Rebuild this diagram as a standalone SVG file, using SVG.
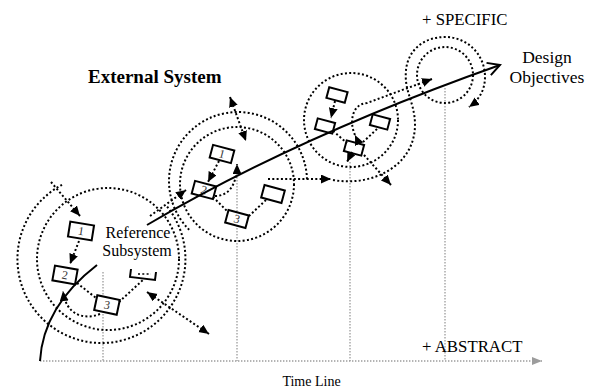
<svg xmlns="http://www.w3.org/2000/svg" width="597" height="390" viewBox="0 0 597 390">
  <defs>
    <!-- filled arrowhead, used at path ends -->
    <marker id="ah" markerUnits="userSpaceOnUse" markerWidth="12" markerHeight="10" refX="10" refY="4.5" orient="auto">
      <path d="M0,0 L10,4.5 L0,9 z" fill="#000"/>
    </marker>
    <!-- same head, flipped at path starts for double-ended arrows -->
    <marker id="ah2" markerUnits="userSpaceOnUse" markerWidth="12" markerHeight="10" refX="10" refY="4.5" orient="auto-start-reverse">
      <path d="M0,0 L10,4.5 L0,9 z" fill="#000"/>
    </marker>
    <!-- open chevron for the main trajectory -->
    <marker id="open" markerUnits="userSpaceOnUse" markerWidth="16" markerHeight="16" refX="13" refY="8" orient="auto">
      <path d="M1,1.5 L13,8 L1,14.5" fill="none" stroke="#000" stroke-width="2"/>
    </marker>
    <!-- grey head for the time axis -->
    <marker id="gah" markerUnits="userSpaceOnUse" markerWidth="12" markerHeight="10" refX="10" refY="4" orient="auto">
      <path d="M0,0 L10,4 L0,8 z" fill="#9c9c9c"/>
    </marker>
  </defs>
  <style>
    .dot{fill:none;stroke:#000;stroke-width:2;stroke-dasharray:2 2.3}
    .gdot{fill:none;stroke:#9c9c9c;stroke-width:1.3;stroke-dasharray:1.4 1.6}
    .main{fill:none;stroke:#000;stroke-width:2}
    .box rect{fill:#fff;stroke:#000;stroke-width:2}
    .box text{font-family:"Liberation Serif","Times New Roman",serif;font-size:12px;fill:#333;text-anchor:middle}
    .lbl{font-family:"Liberation Serif","Times New Roman",serif;fill:#000}
  </style>

  <!-- time axis and projections -->
  <g id="timeline">
    <path class="gdot" d="M40,361 L542,361" marker-end="url(#gah)"/>
    <path class="gdot" d="M103,272 L103,361"/>
    <path class="gdot" d="M237,168 L237,361"/>
    <path class="gdot" d="M350,162 L350,361"/>
    <path class="gdot" d="M445,88 L445,361"/>
  </g>

  <!-- rings around each subsystem state -->
  <g id="rings">
    <path class="dot" d="M62,184.8 A84,84 0 1 0 165.8,205"/>
    <circle class="dot" cx="108" cy="259" r="71"/>
    <path class="dot" d="M189.2,229.8 A69,69 0 1 1 307,181"/>
    <circle class="dot" cx="237" cy="184" r="57"/>
    <circle class="dot" cx="351" cy="120" r="47"/>
    <circle class="dot" cx="445" cy="75" r="28"/>
  </g>

  <!-- reference subsystem -->
  <g id="ref-box1" class="box" transform="translate(81,231) rotate(9)"><rect x="-12" y="-7.5" width="24" height="15"/><text y="4">1</text></g>
  <g id="ref-box2" class="box" transform="translate(65,275) rotate(10)"><rect x="-11.5" y="-7.5" width="23" height="15"/><text y="4">2</text></g>
  <g id="ref-box3" class="box" transform="translate(107,305) rotate(12)"><rect x="-11.5" y="-7.5" width="23" height="15"/><text y="4">3</text></g>
  <g id="ref-box4">
    <path d="M131,269 L130,277 L155,280 L156,272" fill="none" stroke="#000" stroke-width="2"/>
    <path class="dot" d="M138,274 L151,274" style="stroke-width:1.3"/>
  </g>

  <!-- second state -->
  <g id="s2-box1" class="box" transform="translate(222,154) rotate(15)"><rect x="-11" y="-6.5" width="22" height="13"/><text y="4">1</text></g>
  <g id="s2-box2" class="box" transform="translate(204,190) rotate(15)"><rect x="-11" y="-6.5" width="22" height="13"/><text y="4">2</text></g>
  <g id="s2-box3" class="box" transform="translate(237,219) rotate(15)"><rect x="-10.5" y="-6.5" width="21" height="13"/><text y="4">3</text></g>
  <g id="s2-box4" class="box" transform="translate(273,194) rotate(15)"><rect x="-10.5" y="-6.5" width="21" height="13"/></g>

  <!-- third state -->
  <g id="s3-boxA" class="box" transform="translate(337,95) rotate(15)"><rect x="-9.5" y="-5.5" width="19" height="11"/></g>
  <g id="s3-boxB" class="box" transform="translate(325,126) rotate(15)"><rect x="-9" y="-5.5" width="18" height="11"/></g>
  <g id="s3-boxC" class="box" transform="translate(380,122) rotate(15)"><rect x="-9" y="-5.5" width="18" height="11"/></g>
  <g id="s3-boxD" class="box" transform="translate(354,148) rotate(15)"><rect x="-9" y="-5.5" width="18" height="11"/></g>

  <!-- dotted interaction arrows -->
  <g id="connectors">
    <path class="dot" d="M51,182 L80,216" marker-end="url(#ah)"/>
    <path class="dot" d="M79,241 L70,264" marker-end="url(#ah)"/>
    <path class="dot" d="M77,283 L96,298"/>
    <path class="dot" d="M119,302 L144,279"/>
    <path class="dot" d="M100,314 C85,320 66,316 63,291" marker-end="url(#ah)"/>
    <path class="dot" d="M147,292 L209,334" marker-start="url(#ah2)" marker-end="url(#ah2)"/>
    <path class="dot" d="M150,216 L186,190" marker-end="url(#ah)"/>

    <path class="dot" d="M230,97 L246,141" marker-start="url(#ah2)" marker-end="url(#ah2)"/>
    <path class="dot" d="M219,161 L208,182" marker-end="url(#ah)"/>
    <path class="dot" d="M213,197 L228,212"/>
    <path class="dot" d="M266,200 L249,216"/>
    <path class="dot" d="M215,196 C228,196 237,186 237,164" marker-end="url(#ah)"/>
    <path class="dot" d="M268,179 L331,179" marker-end="url(#ah)"/>

    <path class="dot" d="M335,101 L331,118" marker-end="url(#ah)"/>
    <path class="dot" d="M333,131 L347,143"/>
    <path class="dot" d="M377,129 L362,143"/>
    <path class="dot" d="M352,152 L347,162" marker-end="url(#ah)"/>
    <path class="dot" d="M364,155 L391,185" marker-end="url(#ah)"/>
    <path class="dot" d="M355,135 C349,122 352,104 367,103 L432,79" marker-start="url(#ah)" marker-end="url(#ah)"/>

    <path class="dot" d="M333,180 C372,187 416,166 415,123 C414,100 404,92 406,70 C408,50 424,37 445,37 C468,37 485,55 485,77 C485,90 479,100 469,107" marker-end="url(#ah)"/>
  </g>

  <!-- main trajectory -->
  <g id="trajectory">
    <path class="main" d="M40,361 C42,325 62,292 97,265"/>
    <path class="main" d="M147,225 C215,185 330,125 500,65" marker-end="url(#open)"/>
  </g>

  <!-- labels -->
  <g id="labels">
    <text class="lbl" x="88" y="83" font-size="19" font-weight="bold">External System</text>
    <text class="lbl" x="138" y="238" font-size="16" text-anchor="middle">Reference</text>
    <text class="lbl" x="137" y="256" font-size="16" text-anchor="middle">Subsystem</text>
    <text class="lbl" x="422" y="25" font-size="16.8">+ SPECIFIC</text>
    <text class="lbl" x="547" y="63" font-size="17.5" text-anchor="middle">Design</text>
    <text class="lbl" x="547" y="83" font-size="17.5" text-anchor="middle">Objectives</text>
    <text class="lbl" x="422" y="352" font-size="16.8">+ ABSTRACT</text>
    <text class="lbl" x="311.5" y="386" font-size="14" text-anchor="middle">Time Line</text>
  </g>
</svg>
